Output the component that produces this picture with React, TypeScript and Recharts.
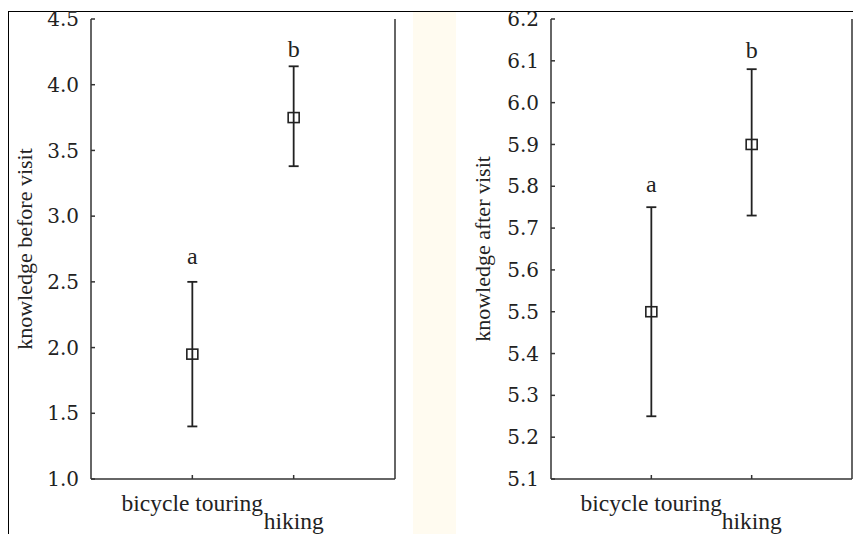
import React from "react";
import {
  ComposedChart,
  Scatter,
  ErrorBar,
  XAxis,
  YAxis,
  Label,
} from "recharts";

const categories = ["bicycle touring", "hiking"];
const categoryPos = [1, 2];
const letters = ["a", "b"];

const beforeMean = [1.95, 3.75];
const beforeLow = [1.4, 3.38];
const beforeHigh = [2.5, 4.14];
const beforeLetterY = [2.7, 4.27];
const beforeTicks = [1.0, 1.5, 2.0, 2.5, 3.0, 3.5, 4.0, 4.5];

const afterMean = [5.5, 5.9];
const afterLow = [5.25, 5.73];
const afterHigh = [5.75, 6.08];
const afterLetterY = [5.805, 6.126];
const afterTicks = [5.1, 5.2, 5.3, 5.4, 5.5, 5.6, 5.7, 5.8, 5.9, 6.0, 6.1, 6.2];

const INK = "#222";
const AXIS = "#333";
const SERIF = "Liberation Serif, DejaVu Serif, serif";
const TICK_FONT = "DejaVu Serif, Liberation Serif, serif";

function buildPoints(mean: number[], low: number[], high: number[]) {
  return mean.map((m, i) => ({
    x: categoryPos[i],
    y: m,
    err: [m - low[i], high[i] - m],
  }));
}

function buildLetters(ys: number[]) {
  return ys.map((y, i) => ({ x: categoryPos[i], y, letter: letters[i] }));
}

function SquareMarker(props: any) {
  const { cx, cy } = props;
  if (cx == null || cy == null) return <g />;
  return (
    <rect
      x={cx - 5.5}
      y={cy - 5}
      width={11}
      height={10}
      fill="none"
      stroke={INK}
      strokeWidth={1.6}
    />
  );
}

function LetterMarker(props: any) {
  const { cx, cy, payload } = props;
  if (cx == null || cy == null) return <g />;
  return (
    <text
      x={cx}
      y={cy}
      textAnchor="middle"
      dominantBaseline="central"
      style={{ fontFamily: SERIF, fontSize: 24 }}
      fill={INK}
    >
      {payload.letter}
    </text>
  );
}

function CategoryTick(props: any) {
  const { x, y, payload } = props;
  const idx = categoryPos.indexOf(payload.value);
  return (
    <text
      x={x}
      y={y + (idx === 0 ? 32 : 50)}
      textAnchor="middle"
      style={{ fontFamily: SERIF, fontSize: 23.5 }}
      fill={INK}
    >
      {categories[idx]}
    </text>
  );
}

function YTitle({ viewBox, text, cx }: any) {
  const cy = viewBox.y + viewBox.height / 2;
  return (
    <text
      x={cx}
      y={cy}
      transform={`rotate(-90, ${cx}, ${cy})`}
      textAnchor="middle"
      dominantBaseline="central"
      style={{ fontFamily: SERIF, fontSize: 22 }}
      fill={INK}
    >
      {text}
    </text>
  );
}

function Panel({
  width,
  axisWidth,
  marginRight,
  domain,
  ticks,
  points,
  letterPoints,
  title,
  titleX,
}: any) {
  return (
    <ComposedChart
      width={width}
      height={534}
      margin={{ top: 19, right: marginRight, bottom: 0, left: 0 }}
    >
      <XAxis
        type="number"
        dataKey="x"
        domain={[0, 3]}
        ticks={categoryPos}
        height={55}
        tickSize={-4}
        tickMargin={4}
        tick={<CategoryTick />}
        axisLine={{ stroke: AXIS, strokeWidth: 1.5 }}
        tickLine={{ stroke: AXIS, strokeWidth: 1.5 }}
        interval={0}
      />
      <XAxis
        xAxisId="top"
        orientation="top"
        type="number"
        domain={[0, 3]}
        ticks={categoryPos}
        height={0}
        tickSize={-4}
        tick={false}
        axisLine={{ stroke: AXIS, strokeWidth: 1.5 }}
        tickLine={{ stroke: AXIS, strokeWidth: 1.5 }}
      />
      <YAxis
        type="number"
        domain={domain}
        ticks={ticks}
        width={axisWidth}
        tickSize={-4}
        tickMargin={16}
        interval={0}
        tickFormatter={(v: number) => v.toFixed(1)}
        tick={{ fill: INK, fontSize: 20, fontFamily: TICK_FONT, style: { fontFamily: TICK_FONT } }}
        axisLine={{ stroke: AXIS, strokeWidth: 1.5 }}
        tickLine={{ stroke: AXIS, strokeWidth: 1.5 }}
      >
        <Label
          content={(p: any) => <YTitle viewBox={p.viewBox} text={title} cx={titleX} />}
        />
      </YAxis>
      <YAxis
        yAxisId="right"
        orientation="right"
        type="number"
        domain={domain}
        ticks={ticks}
        width={1}
        tickSize={-4}
        tick={false}
        interval={0}
        axisLine={{ stroke: AXIS, strokeWidth: 1.5 }}
        tickLine={{ stroke: AXIS, strokeWidth: 1.5 }}
      />
      <Scatter
        data={points}
        dataKey="y"
        shape={<SquareMarker />}
        isAnimationActive={false}
      >
        <ErrorBar
          dataKey="err"
          direction="y"
          width={5}
          stroke={INK}
          strokeWidth={1.8}
          isAnimationActive={false}
        />
      </Scatter>
      <Scatter
        data={letterPoints}
        dataKey="y"
        shape={<LetterMarker />}
        isAnimationActive={false}
      />
    </ComposedChart>
  );
}

export default function App() {
  return (
    <div
      style={{
        position: "absolute",
        left: 0,
        top: 0,
        width: 853,
        height: 534,
        background: "#fff",
        overflow: "hidden",
        fontFamily: SERIF,
      }}
    >
      <div
        style={{
          position: "absolute",
          left: 413,
          top: 12,
          width: 43,
          height: 522,
          background: "#FFFBF0",
        }}
      />
      <div
        style={{
          position: "absolute",
          left: 8,
          top: 11,
          width: 845,
          height: 523,
          borderTop: "1px solid #000",
          borderLeft: "1px solid #000",
        }}
      />
      <div style={{ position: "absolute", left: 0, top: 0 }}>
        <Panel
          width={413}
          axisWidth={91}
          marginRight={17}
          domain={[1.0, 4.5]}
          ticks={beforeTicks}
          points={buildPoints(beforeMean, beforeLow, beforeHigh)}
          letterPoints={buildLetters(beforeLetterY)}
          title="knowledge before visit"
          titleX={24}
        />
      </div>
      <div style={{ position: "absolute", left: 455, top: 0 }}>
        <Panel
          width={398}
          axisWidth={96}
          marginRight={0}
          domain={[5.1, 6.2]}
          ticks={afterTicks}
          points={buildPoints(afterMean, afterLow, afterHigh)}
          letterPoints={buildLetters(afterLetterY)}
          title="knowledge after visit"
          titleX={27}
        />
      </div>
    </div>
  );
}
